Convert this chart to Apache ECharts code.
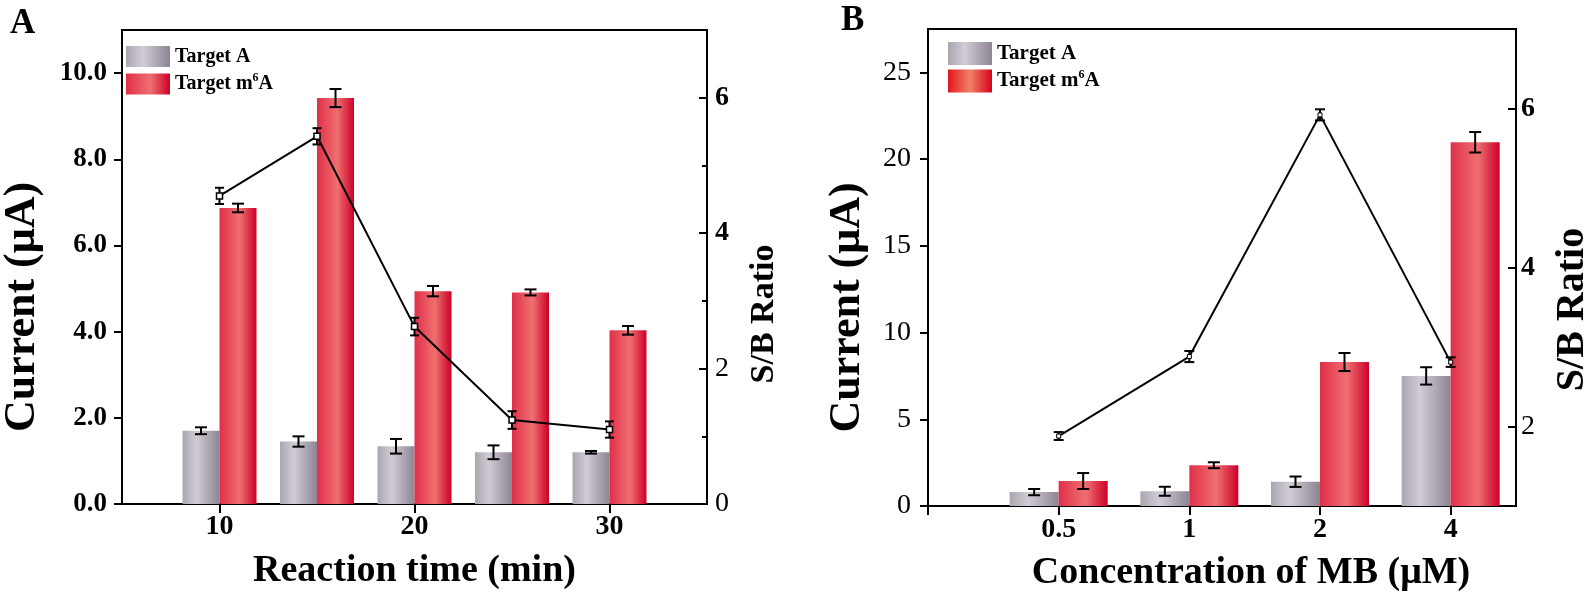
<!DOCTYPE html>
<html>
<head>
<meta charset="utf-8">
<script src="https://cdn.jsdelivr.net/npm/echarts@6/dist/echarts.min.js"></script>
<style>html,body{margin:0;padding:0;background:#fff;}#c{width:1594px;height:600px;}</style>
</head>
<body>
<div id="c"></div>
<script>
// ---------- Panel A data ----------
const timeCats = [10, 15, 20, 25, 30];
const aTargetA = [1.70, 1.45, 1.34, 1.20, 1.20];
const aTargetAErr = [0.08, 0.12, 0.17, 0.16, 0.03];
const aTargetM6A = [6.87, 9.42, 4.94, 4.91, 4.03];
const aTargetM6AErr = [0.10, 0.21, 0.12, 0.07, 0.10];
const aRatio = [4.55, 5.43, 2.62, 1.24, 1.10];
const aRatioErr = [0.12, 0.12, 0.13, 0.13, 0.12];
const aLeftTicks = [0, 2, 4, 6, 8, 10];
const aRightTicks = [0, 2, 4, 6];
const aRightMinor = [1, 3, 5];
const aXTicks = [10, 20, 30];

// ---------- Panel B data ----------
const mbCats = ['0.5', '1', '2', '4'];
const bTargetA = [0.80, 0.85, 1.40, 7.50];
const bTargetAErr = [0.18, 0.26, 0.30, 0.50];
const bTargetM6A = [1.44, 2.35, 8.30, 20.97];
const bTargetM6AErr = [0.46, 0.17, 0.52, 0.59];
const bRatio = [1.88, 2.88, 5.92, 2.81];
const bRatioErr = [0.05, 0.07, 0.07, 0.06];
const bLeftTicks = [0, 5, 10, 15, 20, 25];
const bRightTicks = [2, 4, 6];

const serif = "'Liberation Serif','Times New Roman',serif";
const BAR_A = 37, BAR_B = 49;

function gGrey() {
  return new echarts.graphic.LinearGradient(0, 0, 1, 0, [
    {offset: 0, color: '#aba5b0'}, {offset: 0.38, color: '#d0ccd4'}, {offset: 1, color: '#8e8494'}]);
}
function gRed() {
  return new echarts.graphic.LinearGradient(0, 0, 1, 0, [
    {offset: 0, color: '#df2f4a'}, {offset: 0.55, color: '#ef7070'}, {offset: 1, color: '#cc0028'}]);
}
function gRedLegendB() {
  return new echarts.graphic.LinearGradient(0, 0, 1, 0, [
    {offset: 0, color: '#e3161f'}, {offset: 0.5, color: '#f08264'}, {offset: 1, color: '#d8001f'}]);
}

function errRender(dx, capW) {
  return function (params, api) {
    const x = api.value(0), y = api.value(1), e = api.value(2);
    const hi = api.coord([x, y + e]);
    const lo = api.coord([x, y - e]);
    const cx = hi[0] + dx;
    const st = {stroke: '#000', lineWidth: 2};
    return {type: 'group', children: [
      {type: 'line', shape: {x1: cx, y1: hi[1], x2: cx, y2: lo[1]}, style: st},
      {type: 'line', shape: {x1: cx - capW / 2, y1: hi[1], x2: cx + capW / 2, y2: hi[1]}, style: st},
      {type: 'line', shape: {x1: cx - capW / 2, y1: lo[1], x2: cx + capW / 2, y2: lo[1]}, style: st}
    ]};
  };
}

const axisLine = {show: true, onZero: false, lineStyle: {color: '#000', width: 2}};
const tickStyle = {color: '#000', width: 2};

const xA = timeCats;
const xB = mbCats.map((c, i) => i + 1);

const legendText = (size) => ({
  fontFamily: serif, fontWeight: 'bold', fontSize: size, color: '#000',
  rich: {sup: {fontFamily: serif, fontWeight: 'bold', fontSize: 12, color: '#000', padding: [0, 0, 12, 0]}}
});
const legendFmt = n => n === 'Target m6A' ? 'Target m{sup|6}A' : n;

const option = {
  animation: false,
  backgroundColor: '#fff',
  title: [
    {text: 'A', left: 10, top: 6, padding: 0, textStyle: {fontFamily: serif, fontWeight: 'bold', fontSize: 35, color: '#000'}},
    {text: 'B', left: 841, top: 3, padding: 0, textStyle: {fontFamily: serif, fontWeight: 'bold', fontSize: 35, color: '#000'}}
  ],
  legend: [
    {left: 126, top: 46, orient: 'vertical', itemWidth: 44, itemHeight: 21, itemGap: 5, padding: 0,
     selectedMode: false, icon: 'rect', data: [{name: 'Target A'}, {name: 'Target m6A'}],
     textStyle: legendText(20), formatter: legendFmt},
    {left: 948, top: 42, orient: 'vertical', itemWidth: 44, itemHeight: 23, itemGap: 4, padding: 0,
     selectedMode: false, icon: 'rect',
     data: [{name: 'Target A'}, {name: 'Target m6A', itemStyle: {color: gRedLegendB()}}],
     textStyle: legendText(21), formatter: legendFmt}
  ],
  grid: [
    {left: 117, top: 30, width: 590, height: 474, show: true, borderColor: '#000', borderWidth: 2, containLabel: false},
    {left: 928, top: 29, width: 591, height: 477, show: true, borderColor: '#000', borderWidth: 2, containLabel: false}
  ],
  xAxis: [
    {type: 'value', gridIndex: 0, min: 5, max: 35, axisLine,
     splitLine: {show: false},
     axisTick: {show: true, customValues: aXTicks, length: 9, lineStyle: tickStyle},
     axisLabel: {customValues: aXTicks, margin: 9, fontFamily: serif, fontWeight: 'bold', fontSize: 28, color: '#000'},
     name: 'Reaction time (min)', nameLocation: 'middle', nameGap: 48,
     nameTextStyle: {fontFamily: serif, fontWeight: 'bold', fontSize: 38, color: '#000'}},
    {type: 'value', gridIndex: 1, min: 0, max: 4.5, axisLine,
     splitLine: {show: false},
     axisTick: {show: true, customValues: [0, 1, 2, 3, 4], length: 9, lineStyle: tickStyle},
     axisLabel: {customValues: xB, formatter: v => mbCats[Math.round(v) - 1], margin: 10,
       fontFamily: serif, fontWeight: 'bold', fontSize: 28, color: '#000'},
     name: 'Concentration of MB (μM)', nameLocation: 'middle', nameGap: 48,
     nameTextStyle: {fontFamily: serif, fontWeight: 'bold', fontSize: 38, color: '#000', padding: [0, 0, 0, 58]}}
  ],
  yAxis: [
    {type: 'value', gridIndex: 0, min: 0, max: 11, position: 'left', axisLine,
     splitLine: {show: false},
     axisTick: {show: true, customValues: aLeftTicks, length: 8, lineStyle: tickStyle},
     axisLabel: {customValues: aLeftTicks, formatter: v => v.toFixed(1), margin: 15,
       fontFamily: serif, fontWeight: 'bold', fontSize: 27, color: '#000'},
     name: 'Current (μA)', nameLocation: 'middle', nameRotate: 90, nameGap: 77,
     nameTextStyle: {fontFamily: serif, fontWeight: 'bold', fontSize: 44, color: '#000', padding: [0, 80, 0, 0]}},
    {type: 'value', gridIndex: 0, min: 0, max: 7, position: 'right', axisLine,
     splitLine: {show: false},
     axisTick: {show: true, inside: true, customValues: aRightTicks, length: 8, lineStyle: tickStyle},
     axisLabel: {customValues: aRightTicks, margin: 8, color: '#000',
       formatter: v => (v >= 4 ? '{b|' : '{n|') + v + '}',
       rich: {b: {fontFamily: serif, fontWeight: 'bold', fontSize: 28, color: '#000'},
              n: {fontFamily: serif, fontWeight: 'normal', fontSize: 28, color: '#000'}}},
     name: 'S/B Ratio', nameLocation: 'middle', nameRotate: 90, nameGap: 40,
     nameTextStyle: {fontFamily: serif, fontWeight: 'bold', fontSize: 34, color: '#000', padding: [0, 94, 0, 0]}},
    {type: 'value', gridIndex: 0, min: 0, max: 7, position: 'right', offset: 0,
     axisLine: {show: false}, splitLine: {show: false}, axisLabel: {show: false},
     axisTick: {show: true, inside: true, customValues: aRightMinor, length: 5, lineStyle: tickStyle}},
    {type: 'value', gridIndex: 1, min: 0, max: 27.5, position: 'left', axisLine,
     splitLine: {show: false},
     axisTick: {show: true, customValues: bLeftTicks, length: 8, lineStyle: tickStyle},
     axisLabel: {customValues: bLeftTicks, margin: 17, fontFamily: serif, fontWeight: 'normal', fontSize: 28, color: '#000'},
     name: 'Current (μA)', nameLocation: 'middle', nameRotate: 90, nameGap: 58,
     nameTextStyle: {fontFamily: serif, fontWeight: 'bold', fontSize: 44, color: '#000', padding: [0, 80, 0, 0]}},
    {type: 'value', gridIndex: 1, min: 1, max: 7, position: 'right', axisLine,
     splitLine: {show: false},
     axisTick: {show: true, inside: true, customValues: bRightTicks, length: 8, lineStyle: tickStyle},
     axisLabel: {customValues: bRightTicks, margin: 5, color: '#000',
       formatter: v => (v >= 4 ? '{b|' : '{n|') + v + '}',
       rich: {b: {fontFamily: serif, fontWeight: 'bold', fontSize: 28, color: '#000'},
              n: {fontFamily: serif, fontWeight: 'normal', fontSize: 28, color: '#000'}}},
     name: 'S/B Ratio', nameLocation: 'middle', nameRotate: 90, nameGap: 37,
     nameTextStyle: {fontFamily: serif, fontWeight: 'bold', fontSize: 40, color: '#000', padding: [0, 84, 0, 0]}}
  ],
  series: [
    // Panel A
    {name: 'Target A', type: 'bar', xAxisIndex: 0, yAxisIndex: 0, barWidth: BAR_A, barGap: '0%',
     itemStyle: {color: gGrey()}, data: xA.map((x, i) => [x, aTargetA[i]])},
    {name: 'Target m6A', type: 'bar', xAxisIndex: 0, yAxisIndex: 0, barWidth: BAR_A, barGap: '0%',
     itemStyle: {color: gRed()}, data: xA.map((x, i) => [x, aTargetM6A[i]])},
    {type: 'custom', xAxisIndex: 0, yAxisIndex: 0, z: 5, renderItem: errRender(-BAR_A / 2, 12),
     encode: {x: 0, y: 1}, data: xA.map((x, i) => [x, aTargetA[i], aTargetAErr[i]])},
    {type: 'custom', xAxisIndex: 0, yAxisIndex: 0, z: 5, renderItem: errRender(BAR_A / 2, 12),
     encode: {x: 0, y: 1}, data: xA.map((x, i) => [x, aTargetM6A[i], aTargetM6AErr[i]])},
    {name: 'S/B A', type: 'line', xAxisIndex: 0, yAxisIndex: 1, z: 8,
     symbol: 'rect', symbolSize: 6, lineStyle: {color: '#000', width: 2},
     itemStyle: {color: '#fff', borderColor: '#000', borderWidth: 1.5},
     data: xA.map((x, i) => [x, aRatio[i]])},
    {type: 'custom', xAxisIndex: 0, yAxisIndex: 1, z: 6, renderItem: errRender(0, 9),
     encode: {x: 0, y: 1}, data: xA.map((x, i) => [x, aRatio[i], aRatioErr[i]])},
    // Panel B
    {name: 'Target A', type: 'bar', xAxisIndex: 1, yAxisIndex: 3, barWidth: BAR_B, barGap: '0%',
     itemStyle: {color: gGrey()}, data: xB.map((x, i) => [x, bTargetA[i]])},
    {name: 'Target m6A', type: 'bar', xAxisIndex: 1, yAxisIndex: 3, barWidth: BAR_B, barGap: '0%',
     itemStyle: {color: gRed()}, data: xB.map((x, i) => [x, bTargetM6A[i]])},
    {type: 'custom', xAxisIndex: 1, yAxisIndex: 3, z: 5, renderItem: errRender(-BAR_B / 2, 12),
     encode: {x: 0, y: 1}, data: xB.map((x, i) => [x, bTargetA[i], bTargetAErr[i]])},
    {type: 'custom', xAxisIndex: 1, yAxisIndex: 3, z: 5, renderItem: errRender(BAR_B / 2, 12),
     encode: {x: 0, y: 1}, data: xB.map((x, i) => [x, bTargetM6A[i], bTargetM6AErr[i]])},
    {name: 'S/B B', type: 'line', xAxisIndex: 1, yAxisIndex: 4, z: 8,
     symbol: 'rect', symbolSize: 4, lineStyle: {color: '#000', width: 2},
     itemStyle: {color: '#fff', borderColor: '#000', borderWidth: 1},
     data: xB.map((x, i) => [x, bRatio[i]])},
    {type: 'custom', xAxisIndex: 1, yAxisIndex: 4, z: 6, renderItem: errRender(0, 10),
     encode: {x: 0, y: 1}, data: xB.map((x, i) => [x, bRatio[i], bRatioErr[i]])}
  ]
};

const chart = echarts.init(document.getElementById('c'), null, {renderer: 'canvas'});
chart.setOption(option);
</script>
</body>
</html>
